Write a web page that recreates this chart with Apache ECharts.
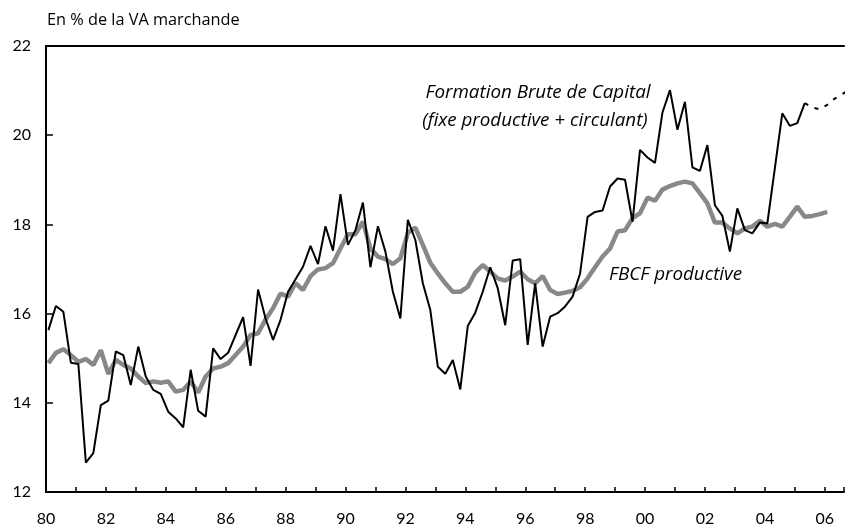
<!DOCTYPE html>
<html>
<head>
<meta charset="utf-8">
<script src="https://cdn.jsdelivr.net/npm/echarts@6/dist/echarts.min.js"></script>
<style>
  html, body { margin: 0; padding: 0; background: #fff; }
  #chart { width: 847px; height: 529px; }
</style>
</head>
<body>
<div id="chart"></div>
<script>
// Quarterly series, starting 1980 Q1
const startYear = 1980;
const yTicks = [12, 14, 16, 18, 20, 22];
const xTickLabels = ['80','82','84','86','88','90','92','94','96','98','00','02','04','06'];

// Formation Brute de Capital (fixe productive + circulant) - observed
const fbcValues = [
  15.63, 16.17, 16.04, 14.90, 14.87, 12.66, 12.87, 13.95, 14.05, 15.15,
  15.07, 14.40, 15.26, 14.59, 14.29, 14.20, 13.80, 13.65, 13.45, 14.74,
  13.82, 13.69, 15.22, 14.98, 15.12, 15.52, 15.92, 14.83, 16.54, 15.89,
  15.41, 15.86, 16.49, 16.77, 17.05, 17.52, 17.11, 17.96, 17.41, 18.68,
  17.54, 17.87, 18.49, 17.04, 17.96, 17.39, 16.49, 15.89, 18.10, 17.65,
  16.68, 16.08, 14.81, 14.65, 14.96, 14.30, 15.72, 16.02, 16.49, 17.04,
  16.57, 15.74, 17.19, 17.22, 15.30, 16.68, 15.26, 15.93, 16.01, 16.16,
  16.38, 16.90, 18.17, 18.28, 18.31, 18.85, 19.03, 19.00, 18.06, 19.67,
  19.50, 19.38, 20.51, 21.01, 20.12, 20.75, 19.28, 19.20, 19.78, 18.43,
  18.19, 17.39, 18.36, 17.87, 17.80, 18.04, 18.02, 19.25, 20.49, 20.21,
  20.27, 20.72
];
// Projection (dashed), starting at the last observed quarter
const fbcProjection = [20.72, 20.62, 20.58, 20.68, 20.82, 20.92, 21.02];
const fbcProjectionStart = 101;

// FBCF productive
const fbcfValues = [
  14.89, 15.12, 15.20, 15.07, 14.92, 14.98, 14.85, 15.18, 14.65, 14.96,
  14.85, 14.77, 14.59, 14.44, 14.48, 14.45, 14.48, 14.25, 14.29, 14.48,
  14.23, 14.59, 14.77, 14.81, 14.89, 15.07, 15.26, 15.52, 15.56, 15.87,
  16.12, 16.45, 16.38, 16.68, 16.53, 16.84, 16.99, 17.02, 17.13, 17.46,
  17.78, 17.78, 18.06, 17.46, 17.28, 17.22, 17.11, 17.24, 17.81, 17.93,
  17.54, 17.14, 16.90, 16.68, 16.49, 16.49, 16.60, 16.92, 17.09, 16.94,
  16.79, 16.74, 16.83, 16.94, 16.77, 16.68, 16.84, 16.53, 16.44, 16.47,
  16.51, 16.59, 16.79, 17.04, 17.28, 17.46, 17.84, 17.87, 18.14, 18.25,
  18.60, 18.53, 18.78, 18.86, 18.92, 18.96, 18.92, 18.70, 18.47, 18.04,
  18.04, 17.91, 17.80, 17.91, 17.95, 18.08, 17.95, 18.01, 17.95, 18.17,
  18.40, 18.17, 18.19, 18.23, 18.28
];

function qx(i) { return startYear + 0.08 + i * 0.25; }
const toPairs = (arr, offset) => arr.map((v, i) => [qx(i + (offset || 0)), v]);

const FONT = '"Open Sans", Lato, sans-serif';
const NUMFONT = 'Lato, "Open Sans", sans-serif';
const chart = echarts.init(document.getElementById('chart'), null, { renderer: 'canvas' });
chart.setOption({
  animation: false,
  backgroundColor: '#ffffff',
  grid: { left: 46, right: 0, top: 46, bottom: 37, containLabel: false },
  xAxis: [{
    type: 'value',
    min: 1980,
    max: 2006.64,
    interval: 1,
    axisLine: { show: true, lineStyle: { color: '#000', width: 2 } },
    axisTick: { show: true, inside: true, length: 5, lineStyle: { color: '#000', width: 1.5 } },
    axisLabel: {
      margin: 19, fontSize: 16, color: '#000', fontFamily: NUMFONT,
      formatter: v => {
        if (!Number.isInteger(v)) return '';
        const idx = (v - 1980) / 2;
        return Number.isInteger(idx) && xTickLabels[idx] !== undefined ? xTickLabels[idx] : '';
      }
    },
    splitLine: { show: false }
  }, {
    type: 'value', position: 'top', min: 1980, max: 2006.64,
    axisLine: { show: true, lineStyle: { color: '#000', width: 2 } },
    axisTick: { show: false }, axisLabel: { show: false }, splitLine: { show: false }
  }],
  yAxis: {
    type: 'value',
    min: yTicks[0],
    max: yTicks[yTicks.length - 1],
    interval: 2,
    axisLine: { show: true, lineStyle: { color: '#000', width: 2 } },
    axisTick: { show: true, inside: true, length: 7, lineStyle: { color: '#000', width: 1.5 } },
    axisLabel: { margin: 15, fontSize: 16, color: '#000', fontFamily: NUMFONT },
    splitLine: { show: false }
  },
  series: [
    {
      name: 'FBCF productive', type: 'line', data: toPairs(fbcfValues),
      showSymbol: false, lineStyle: { color: '#888888', width: 4.5 }, z: 2
    },
    {
      name: 'Formation Brute de Capital', type: 'line', data: toPairs(fbcValues),
      showSymbol: false, lineStyle: { color: '#000', width: 2 }, z: 3
    },
    {
      name: 'Projection', type: 'line', data: toPairs(fbcProjection, fbcProjectionStart),
      showSymbol: false, lineStyle: { color: '#000', width: 2, type: [4, 7] }, z: 3
    }
  ],
  graphic: [
    { type: 'text', left: 47, top: 12, style: { text: 'En % de la VA marchande', fontSize: 16.3, fill: '#000', fontFamily: FONT } },
    { type: 'text', x: 538, y: 93, style: { text: 'Formation Brute de Capital', fontSize: 18.8, fontStyle: 'italic', fill: '#000', fontFamily: FONT, align: 'center', verticalAlign: 'middle' } },
    { type: 'text', x: 535, y: 121, style: { text: '(fixe productive + circulant)', fontSize: 18.8, fontStyle: 'italic', fill: '#000', fontFamily: FONT, align: 'center', verticalAlign: 'middle' } },
    { type: 'text', x: 609, y: 275, style: { text: 'FBCF productive', fontSize: 18.8, fontStyle: 'italic', fill: '#000', fontFamily: FONT, align: 'left', verticalAlign: 'middle' } }
  ]
});
</script>
</body>
</html>
